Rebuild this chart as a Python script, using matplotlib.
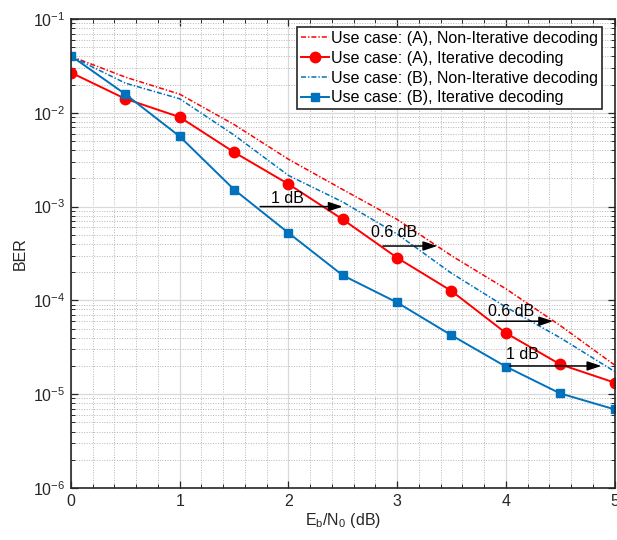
import matplotlib
matplotlib.use("Agg")
import matplotlib.pyplot as plt
from matplotlib.ticker import FixedLocator, MultipleLocator, NullFormatter

plt.rcParams['font.family'] = ['Liberation Sans', 'DejaVu Sans']
plt.rcParams['mathtext.fontset'] = 'custom'
plt.rcParams['mathtext.rm'] = 'Liberation Sans'
plt.rcParams['mathtext.it'] = 'Liberation Sans:italic'
plt.rcParams['mathtext.default'] = 'regular'

# ---- data ----
ebn0 = [0, 0.5, 1, 1.5, 2, 2.5, 3, 3.5, 4, 4.5, 5]
ber_a_noniter = [0.040, 0.024, 0.0158, 0.0075, 0.0032, 0.00152, 7.3e-4, 3.0e-4, 1.33e-4, 5.4e-5, 2.05e-5]
ber_a_iter = [0.0268, 0.0141, 0.0090, 0.0038, 0.00174, 7.3e-4, 2.85e-4, 1.26e-4, 4.5e-5, 2.08e-5, 1.33e-5]
ber_b_noniter = [0.040, 0.0207, 0.0141, 0.0058, 0.00215, 0.00112, 5.1e-4, 1.95e-4, 8.5e-5, 4.0e-5, 1.75e-5]
ber_b_iter = [0.0404, 0.0158, 0.0056, 0.00152, 5.25e-4, 1.85e-4, 9.5e-5, 4.25e-5, 1.97e-5, 1.02e-5, 6.9e-6]

labels = ["Use case: (A), Non-Iterative decoding",
          "Use case: (A), Iterative decoding",
          "Use case: (B), Non-Iterative decoding",
          "Use case: (B), Iterative decoding"]

xticks = [0, 1, 2, 3, 4, 5]
yticks = [1e-6, 1e-5, 1e-4, 1e-3, 1e-2, 1e-1]
ytick_labels = ['$10^{-6}$', '$10^{-5}$', '$10^{-4}$', '$10^{-3}$', '$10^{-2}$', '$10^{-1}$']

# annotations: text, arrow start x, arrow end x, arrow y, text x, text y
ann_text = ["1 dB", "0.6 dB", "0.6 dB", "1 dB"]
ann_x0 = [1.74, 2.87, 3.915, 4.035]
ann_x1 = [2.50, 3.37, 4.436, 4.88]
ann_y = [1.0e-3, 3.8e-4, 6.0e-5, 2.0e-5]
ann_tx = [1.99, 2.97, 4.05, 4.15]
ann_ty = [1.09e-3, 4.78e-4, 6.8e-5, 2.35e-5]

RED = '#FF0000'
BLUE = '#0072BD'
FS = 11.5
DASHDOT = (0, (3.3, 1.3, 0.9, 1.3))

fig = plt.figure(figsize=(6.17, 5.4), dpi=100)
ax = fig.add_axes([71 / 617, 52 / 540, (614.5 - 71) / 617, (488 - 19) / 540])

ax.semilogy(ebn0, ber_a_noniter, color=RED, ls=DASHDOT, lw=1.1, label=labels[0])
ax.semilogy(ebn0, ber_a_iter, color=RED, ls='-', lw=1.4, marker='o', markersize=7.5, label=labels[1])
ax.semilogy(ebn0, ber_b_noniter, color=BLUE, ls=DASHDOT, lw=1.1, label=labels[2])
ax.semilogy(ebn0, ber_b_iter, color=BLUE, ls='-', lw=1.4, marker='s', markersize=6, label=labels[3])

ax.set_xlim(0, 5)
ax.set_ylim(1e-6, 1e-1)
ax.xaxis.set_major_locator(FixedLocator(xticks))
ax.xaxis.set_minor_locator(MultipleLocator(0.2))
ax.set_yticks(yticks)
ax.set_yticklabels(ytick_labels)
ax.yaxis.set_minor_locator(FixedLocator([m * 10.0 ** k for k in range(-6, -1) for m in range(2, 10)]))
ax.yaxis.set_minor_formatter(NullFormatter())

ax.grid(True, which='major', color='#d9d9d9', lw=0.9, ls='-')
ax.grid(True, which='minor', color='#b5b5b5', lw=0.7, ls=(0, (1, 1.6)))
ax.set_axisbelow(True)

for s in ax.spines.values():
    s.set_color('#262626')
    s.set_linewidth(1.2)
ax.tick_params(which='both', direction='in', top=True, right=True, colors='#262626',
               labelsize=FS, labelcolor='#262626')
ax.tick_params(which='major', length=5, width=0.9, pad=4)
ax.tick_params(which='minor', length=2.8, width=0.7)

ax.set_xlabel('E$_b$/N$_0$ (dB)', fontsize=FS, color='#262626', labelpad=2)
ax.set_ylabel('BER', fontsize=FS, color='#262626', labelpad=4)

for t, x0, x1, y, tx, ty in zip(ann_text, ann_x0, ann_x1, ann_y, ann_tx, ann_ty):
    ax.annotate('', xy=(x1, y), xytext=(x0, y),
                arrowprops=dict(arrowstyle='-|>,head_length=1.0,head_width=0.33', color='black',
                                lw=1.1, shrinkA=0, shrinkB=0, mutation_scale=8.5))
    ax.text(tx, ty, t, fontsize=FS, ha='center', va='baseline', color='black')

leg = ax.legend(loc='upper right', bbox_to_anchor=(602 / 617, 1 - 27 / 540),
                bbox_transform=fig.transFigure, borderaxespad=0, fontsize=FS,
                fancybox=False, framealpha=1, edgecolor='#262626', handlelength=1.75,
                handletextpad=0.15, labelspacing=0.3, borderpad=0.25)
leg.get_frame().set_linewidth(1.2)

fig.savefig('out.png', dpi=100)
